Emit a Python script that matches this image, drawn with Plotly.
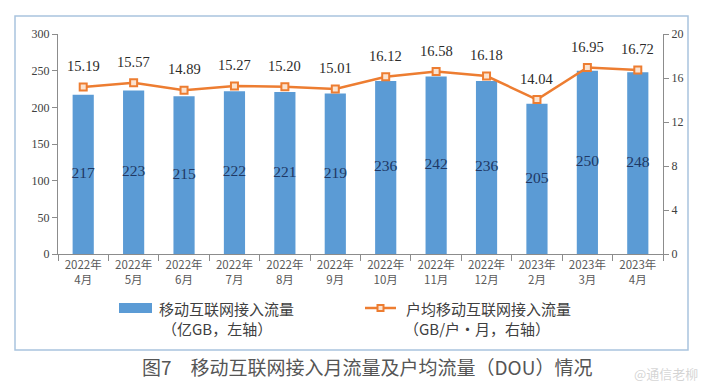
import plotly.graph_objects as go

months = ["2022年<br>4月", "2022年<br>5月", "2022年<br>6月", "2022年<br>7月", "2022年<br>8月", "2022年<br>9月",
          "2022年<br>10月", "2022年<br>11月", "2022年<br>12月", "2023年<br>2月", "2023年<br>3月", "2023年<br>4月"]
traffic = [217, 223, 215, 222, 221, 219, 236, 242, 236, 205, 250, 248]
dou = [15.19, 15.57, 14.89, 15.27, 15.20, 15.01, 16.12, 16.58, 16.18, 14.04, 16.95, 16.72]

BLUE = "#5B9BD5"
ORANGE = "#ED7D31"
SERIF = "Liberation Serif, Times New Roman, serif"
CJK = "Noto Sans CJK SC"

fig = go.Figure()
fig.add_trace(go.Bar(x=months, y=traffic, marker=dict(color=BLUE, line=dict(width=0)),
                     yaxis="y", showlegend=False, hoverinfo="skip"))
fig.add_trace(go.Scatter(x=months, y=[v / 2 for v in traffic], mode="text",
                         text=[str(v) for v in traffic], textposition="middle center",
                         textfont=dict(family=SERIF, size=15.5, color="#1F3864"),
                         yaxis="y", showlegend=False, hoverinfo="skip"))
fig.add_trace(go.Scatter(x=months, y=dou, mode="lines+markers", yaxis="y2",
                         line=dict(color=ORANGE, width=2.5),
                         marker=dict(symbol="square", size=7, color="#FBE3D0",
                                     line=dict(color=ORANGE, width=2)),
                         showlegend=False, hoverinfo="skip"))

annotations = []
for m, v in zip(months, dou):
    annotations.append(dict(x=m, y=v, xref="x", yref="y2", text=f"{v:.2f}", showarrow=False,
                            yshift=21, font=dict(family=SERIF, size=14.5, color="#2B2B2B")))

W, H = 703, 392
L, R, T, B = 58, 40, 34, 138
pw, ph = W - L - R, H - T - B

def px(x):
    return (x - L) / pw

def py(y):
    return (H - B - y) / ph

shapes = [
    dict(type="rect", xref="paper", yref="paper", x0=px(15), x1=px(688), y0=py(350), y1=py(16),
         line=dict(color="#A9C4DE", width=1.5), fillcolor="rgba(0,0,0,0)", layer="below"),
    dict(type="rect", xref="paper", yref="paper", x0=px(119), x1=px(152), y0=py(313), y1=py(303),
         line=dict(width=0), fillcolor=BLUE),
    dict(type="line", xref="paper", yref="paper", x0=px(365), x1=px(396), y0=py(308), y1=py(308),
         line=dict(color=ORANGE, width=2.5)),
    dict(type="rect", xref="paper", yref="paper", x0=px(377.5), x1=px(383.5), y0=py(311), y1=py(305),
         line=dict(color=ORANGE, width=2), fillcolor="#FBE3D0"),
]
legend_font = dict(family=CJK, size=15, color="#404040")
annotations += [
    dict(xref="paper", yref="paper", x=px(157), y=py(308), xanchor="left", yanchor="middle",
         text="移动互联网接入流量", showarrow=False, font=legend_font),
    dict(xref="paper", yref="paper", x=px(160), y=py(328), xanchor="left", yanchor="middle",
         text="（亿GB，左轴）", showarrow=False, font=legend_font),
    dict(xref="paper", yref="paper", x=px(404), y=py(308), xanchor="left", yanchor="middle",
         text="户均移动互联网接入流量", showarrow=False, font=legend_font),
    dict(xref="paper", yref="paper", x=px(402), y=py(328), xanchor="left", yanchor="middle",
         text="（GB/户・月，右轴）", showarrow=False, font=legend_font),
    dict(xref="paper", yref="paper", x=px(140), y=py(366), xanchor="left", yanchor="middle",
         text="图7　移动互联网接入月流量及户均流量（DOU）情况", showarrow=False,
         font=dict(family=CJK, size=19, color="#555555")),
    dict(xref="paper", yref="paper", x=px(700), y=py(373), xanchor="right", yanchor="middle",
         text="@通信老柳", showarrow=False,
         font=dict(family=CJK, size=13, color="rgba(205,205,205,0.85)")),
]

axis_common = dict(showline=True, linecolor="#8C8C8C", linewidth=1, ticks="outside",
                   tickcolor="#8C8C8C", ticklen=5, showgrid=False, zeroline=False,
                   tickfont=dict(family=SERIF, size=12, color="#404040"))

fig.update_layout(
    width=W, height=H, margin=dict(l=L, r=R, t=T, b=B),
    paper_bgcolor="white", plot_bgcolor="white",
    bargap=0.58,
    xaxis=dict(type="category", showline=True, linecolor="#8C8C8C", ticks="outside",
               tickcolor="#8C8C8C", ticklen=6, tickson="boundaries", showgrid=False,
               tickfont=dict(family=CJK, size=11.5, color="#595959"), range=[-0.5, 11.5]),
    yaxis=dict(range=[0, 300], dtick=50, **axis_common),
    yaxis2=dict(range=[0, 20], dtick=4, overlaying="y", side="right", **axis_common),
    shapes=shapes, annotations=annotations,
)

fig.write_html("out.html", config={"displayModeBar": False, "staticPlot": True},
               post_script="document.body.style.margin='0';document.body.style.overflow='hidden';")
